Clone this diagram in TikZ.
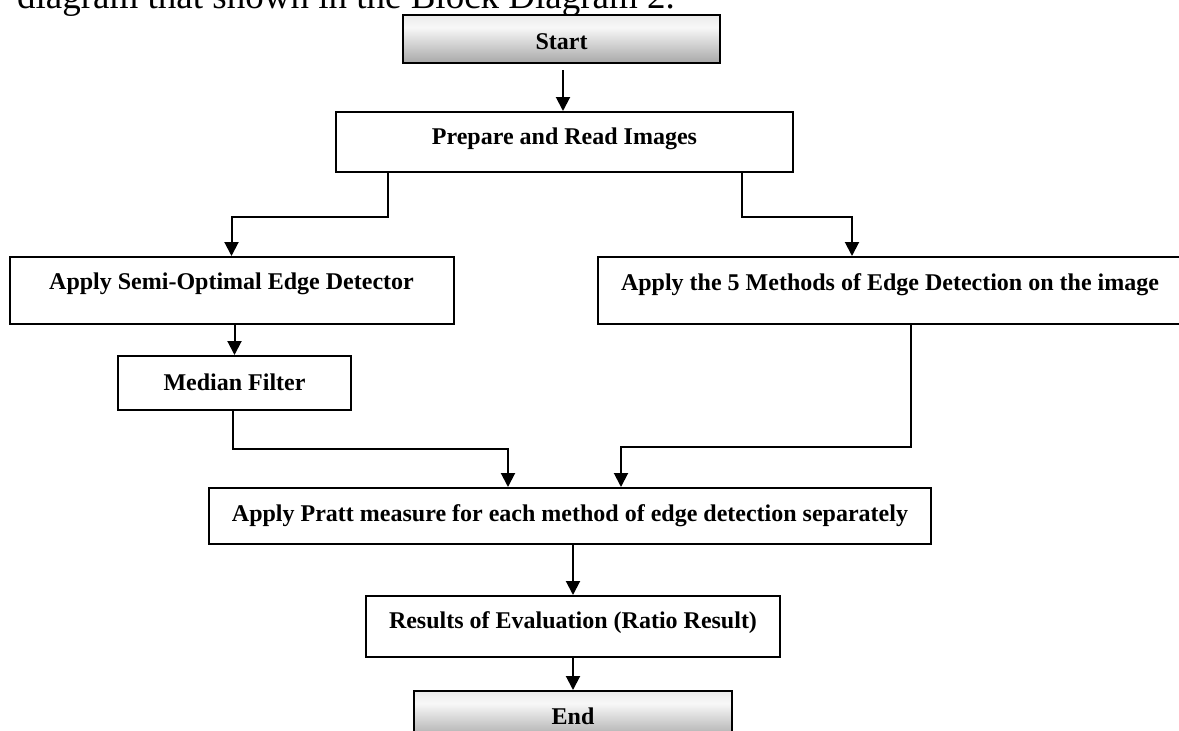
\documentclass[tikz,border=0pt]{standalone}
\usepackage{fontspec}
\setmainfont{Liberation Serif}
\usetikzlibrary{arrows.meta}
\definecolor{shadeA}{gray}{0.45}
\definecolor{shadeB}{gray}{0.97}
\definecolor{shadeC}{gray}{0.82}
\pgfdeclareverticalshading{startend}{100bp}{color(0bp)=(shadeA); color(62bp)=(shadeB); color(100bp)=(shadeC)}
\begin{document}
\begin{tikzpicture}[x=1pt,y=-1pt,
  box/.style={draw=black, line width=2pt, inner xsep=0pt, inner ysep=0pt, anchor=north,
    font=\fontsize{24}{28}\selectfont\bfseries},
  term/.style={box, shading=startend},
  conn/.style={line width=2pt, -{Triangle[length=14pt,width=14pt]}},
  titletext/.style={anchor=base west, inner sep=0pt, font=\fontsize{37}{44}\selectfont}
]
\useasboundingbox (0,0) rectangle (1179,731);
\clip (0,0) rectangle (1179,731);

\node[titletext] (title) at (17,8) {diagram that shown in the Block Diagram 2.};

\node[term, minimum width=317pt, text height=34pt, text depth=14pt] (start) at (561.5,14) {Start};
\node[box, minimum width=457pt, text height=32pt, text depth=28pt] (prep) at (564.5,111) {Prepare and Read Images};
\node[box, minimum width=444pt, text height=32pt, text depth=35pt] (semi) at (231.5,256) {Apply Semi-Optimal Edge Detector};
\node[box, minimum width=584pt, text height=33pt, text depth=34pt] (meth) at (890,256) {Apply the 5 Methods of Edge Detection on the image};
\node[box, minimum width=233pt, text height=34pt, text depth=20pt] (med) at (234.5,355) {Median Filter};
\node[box, minimum width=722pt, text height=33pt, text depth=23pt] (pratt) at (570,487) {Apply Pratt measure for each method of edge detection separately};
\node[box, minimum width=414pt, text height=32pt, text depth=29pt] (res) at (573,595) {Results of Evaluation (Ratio Result)};
\node[term, minimum width=318pt, text height=33pt, text depth=15pt] (end) at (573,690) {End};

\draw[conn] ([xshift=1.5pt,yshift=-6pt]start.south) -- ([xshift=-1.5pt]prep.north);
\draw[conn] ([xshift=-176.5pt]prep.south) -- ++(0,44) -| (semi.north);
\draw[conn] ([xshift=177.5pt]prep.south) -- ++(0,44) -| ([xshift=-38pt]meth.north);
\draw[conn] (med.north |- semi.south) -- (med.north);
\draw[conn] ([xshift=-1.5pt]med.south) -- ++(0,38) -| ([xshift=-62pt]pratt.north);
\draw[conn] ([xshift=21pt]meth.south) -- ++(0,122) -| ([xshift=51pt]pratt.north);
\draw[conn] (res.north |- pratt.south) -- (res.north);
\draw[conn] (res.south) -- (end.north);
\end{tikzpicture}
\end{document}
